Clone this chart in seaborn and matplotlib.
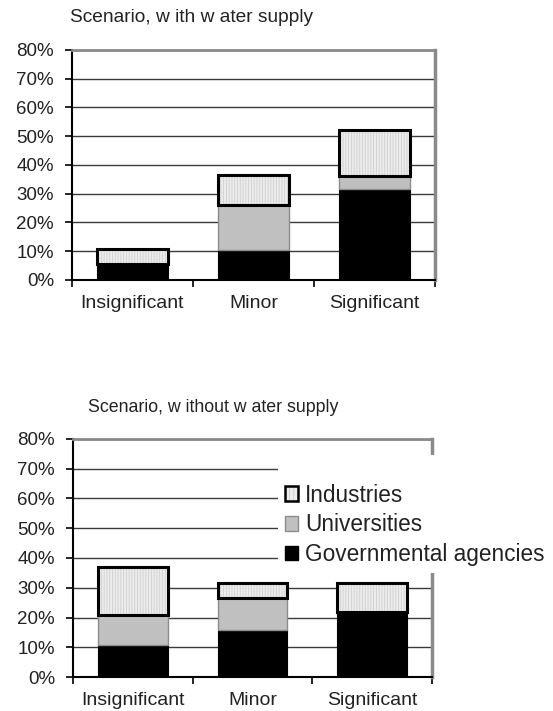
import numpy as np
import pandas as pd
import seaborn as sns
import matplotlib.pyplot as plt
from matplotlib.patches import Patch
from matplotlib.ticker import FuncFormatter

categories = ["Insignificant", "Minor", "Significant"]

# scenario with water supply (percent)
with_gov = [5.6, 10.6, 31.6]
with_uni = [0.0, 15.6, 4.6]
with_ind = [5.3, 10.2, 15.9]

# scenario without water supply (percent)
without_gov = [10.6, 15.7, 21.7]
without_uni = [10.3, 10.7, 0.0]
without_ind = [16.0, 5.1, 9.8]

legend_labels = ["Industries", "Universities", "Governmental agencies"]
y_ticks = [0, 10, 20, 30, 40, 50, 60, 70, 80]

sns.set_theme(style="white")
plt.rcParams["font.family"] = ["Liberation Sans", "DejaVu Sans"]
plt.rcParams["hatch.linewidth"] = 0.6

IND_FACE = "#ececec"
IND_HATCH = "#cfcfcf"
UNI_FACE = "#c0c0c0"
UNI_EDGE = "#8c8c8c"
BAR_W = 0.58


def stacked(ax, gov, uni, ind, xsize, ysize):
    df = pd.DataFrame({"category": categories, "gov": gov, "uni": uni, "ind": ind})
    base_uni = df["gov"].to_numpy()
    base_ind = (df["gov"] + df["uni"]).to_numpy()
    common = dict(data=df, x="category", width=BAR_W, saturation=1,
                  errorbar=None, ax=ax, zorder=3)
    sns.barplot(y="gov", color="black", edgecolor="black", linewidth=0.8, **common)
    sns.barplot(y="uni", bottom=base_uni, color=UNI_FACE, edgecolor=UNI_EDGE,
                linewidth=1.0, **common)
    sns.barplot(y="ind", bottom=base_ind, color=IND_FACE, edgecolor=IND_HATCH,
                hatch="||||||", linewidth=0, **common)
    sns.barplot(y="ind", bottom=base_ind, color="black", fill=False,
                linewidth=2.2, **common)

    ax.set_xlabel("")
    ax.set_ylabel("")
    ax.set_xlim(-0.5, 2.5)
    ax.set_ylim(0, 80)
    ax.set_yticks(y_ticks)
    ax.yaxis.set_major_formatter(FuncFormatter(lambda v, p: f"{int(v)}%"))
    ax.set_xticks([0, 1, 2])
    ax.set_xticklabels(categories)
    ax.set_xticks([-0.5, 0.5, 1.5, 2.5], minor=True)
    ax.tick_params(axis="x", which="major", length=0, pad=11, labelsize=xsize,
                   colors="#222222")
    ax.tick_params(axis="x", which="minor", length=5, width=1.2, color="black",
                   direction="out", bottom=True)
    ax.tick_params(axis="y", length=5, width=1.2, color="black", direction="out",
                   left=True, pad=8, labelsize=ysize, labelcolor="#222222")
    ax.set_axisbelow(True)
    ax.yaxis.grid(True, color="#3a3a3a", linewidth=1.0)
    ax.xaxis.grid(False)
    ax.spines["left"].set_color("black")
    ax.spines["left"].set_linewidth(1.5)
    ax.spines["bottom"].set_color("black")
    ax.spines["bottom"].set_linewidth(1.5)
    ax.spines["top"].set_color("#8a8a8a")
    ax.spines["top"].set_linewidth(2)
    ax.spines["right"].set_color("#8a8a8a")
    ax.spines["right"].set_linewidth(2.5)


fig = plt.figure(figsize=(5.53, 7.11), dpi=100)
ax1 = fig.add_axes([0.1302, 0.6062, 0.6564, 0.3235])
ax2 = fig.add_axes([0.1320, 0.0478, 0.6492, 0.3348])

stacked(ax1, with_gov, with_uni, with_ind, 14, 13.5)
stacked(ax2, without_gov, without_uni, without_ind, 14, 13.5)

fig.text(70 / 553, 1 - 18 / 711, "Scenario, w ith w ater supply", fontsize=13.8,
         ha="left", va="center", color="#222222")
fig.text(88 / 553, 1 - 407 / 711, "Scenario, w ithout w ater supply", fontsize=12.8,
         ha="left", va="center", color="#222222")

handles = [
    (Patch(facecolor=IND_FACE, edgecolor=IND_HATCH, hatch="||||", linewidth=0),
     Patch(facecolor="none", edgecolor="black", linewidth=1.8)),
    Patch(facecolor=UNI_FACE, edgecolor=UNI_EDGE, linewidth=1.0),
    Patch(facecolor="black", edgecolor="black", linewidth=1.0),
]
# blank title only pads the white box upward, as in the original
leg = ax2.legend(handles, legend_labels, loc="center left",
                 bbox_to_anchor=(278 / 553, 1 - 514 / 711),
                 bbox_transform=fig.transFigure, fontsize=16.3, frameon=True,
                 facecolor="white", edgecolor="none", framealpha=1, fancybox=False,
                 handlelength=0.6, handleheight=0.6, handletextpad=0.3,
                 labelspacing=0.3, borderpad=0.3, borderaxespad=0,
                 title=" ", title_fontsize=12)
for t in leg.get_texts():
    t.set_color("#222222")

fig.savefig("out.png", dpi=100)
